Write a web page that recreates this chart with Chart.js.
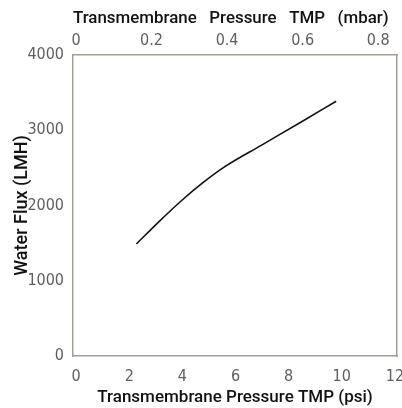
<!DOCTYPE html>
<html>
<head>
<meta charset="utf-8">
<script src="https://cdn.jsdelivr.net/npm/chart.js@4"></script>
<style>
  html, body { margin: 0; padding: 0; background: #fff; }
  #wrap { width: 402px; height: 408px; }
</style>
</head>
<body>
<div id="wrap"><canvas id="chart" width="402" height="408"></canvas></div>
<script>
// values
const tmpPsi = [2.27, 3.13, 3.95, 4.76, 5.57, 7.0, 8.52, 9.79];
const waterFlux = [1490, 1790, 2060, 2300, 2510, 2806, 3120, 3385];
const psiTicks = [0, 2, 4, 6, 8, 10, 12];
const barTicks = [0, 0.2, 0.4, 0.6, 0.8];
const fluxTicks = [0, 1000, 2000, 3000, 4000];

const boxColor = '#a39e95';
const tickColor = '#5e5e5e';
const tickFont = { family: '"Liberation Sans Narrow", "DejaVu Sans Condensed", sans-serif', size: 16 };
const titleFont = { family: 'Roboto', size: 17, weight: '500' };

// fixed axis sizes so the plot box sits where the reference has it
function fixSize(prop, value) {
    return function (scale) {
        scale[prop] = value;
        scale.paddingLeft = 0;
        scale.paddingRight = 0;
        scale.paddingTop = 0;
        scale.paddingBottom = 0;
    };
}

const points = tmpPsi.map((x, i) => ({ x: x, y: waterFlux[i] }));

new Chart(document.getElementById('chart').getContext('2d'), {
    type: 'line',
    data: {
        datasets: [{
            data: points,
            borderColor: '#111111',
            borderWidth: 1.6,
            pointRadius: 0,
            fill: false,
            cubicInterpolationMode: 'monotone'
        }]
    },
    options: {
        responsive: false,
        animation: false,
        layout: { padding: 0 },
        plugins: { legend: { display: false }, tooltip: { enabled: false } },
        scales: {
            x: {
                type: 'linear', position: 'bottom', min: -0.12, max: 12.08,
                afterFit: fixSize('height', 52),
                afterBuildTicks: s => { s.ticks = psiTicks.map(v => ({ value: v })); },
                grid: { display: false, drawTicks: false },
                border: { display: true, color: boxColor, width: 1.5 },
                ticks: { color: tickColor, font: tickFont, padding: 11 },
                title: { display: true, text: 'Transmembrane Pressure TMP (psi)', color: '#111', font: titleFont, padding: { top: 0, bottom: 0 } }
            },
            x2: {
                type: 'linear', position: 'top', min: -0.008, max: 0.85,
                afterFit: fixSize('height', 55),
                afterBuildTicks: s => { s.ticks = barTicks.map(v => ({ value: v })); },
                grid: { display: false, drawTicks: false },
                border: { display: true, color: boxColor, width: 1.5 },
                ticks: { color: tickColor, font: tickFont, padding: 5, callback: v => String(v) },
                title: { display: true, text: 'Transmembrane   Pressure   TMP   (mbar)  ', color: '#111', font: titleFont, padding: { top: 9, bottom: 0 } }
            },
            y: {
                type: 'linear', position: 'left', min: 0, max: 4000,
                afterFit: fixSize('width', 73),
                afterBuildTicks: s => { s.ticks = fluxTicks.map(v => ({ value: v })); },
                grid: { display: false, drawTicks: false },
                border: { display: true, color: boxColor, width: 1.5 },
                ticks: { color: tickColor, font: tickFont, padding: 9, callback: v => String(v) },
                title: { display: true, text: 'Water Flux (LMH)', color: '#111', font: { family: 'Roboto', size: 18, weight: '500' }, padding: { top: 12, bottom: 0 } }
            },
            y2: {
                type: 'linear', position: 'right', min: 0, max: 4000,
                afterFit: fixSize('width', 5),
                grid: { display: false, drawTicks: false },
                border: { display: true, color: boxColor, width: 1.5 },
                ticks: { display: false }
            }
        }
    }
});
</script>
</body>
</html>
